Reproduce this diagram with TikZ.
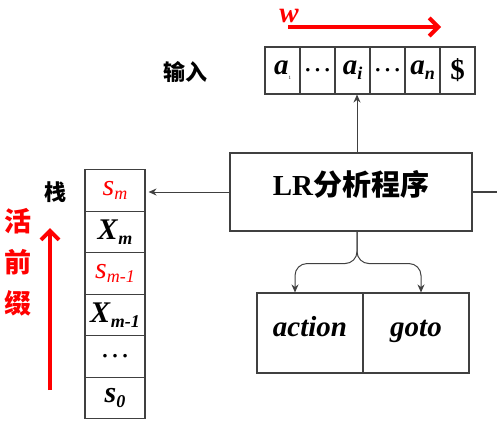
\documentclass[tikz,border=0pt]{standalone}
\usepackage{fontspec}
\setmainfont{Liberation Serif}
\newfontfamily\cjk{Noto Sans CJK SC}
\usetikzlibrary{positioning,arrows.meta}

\newcommand{\sy}[2]{\textbf{\textit{#1}}\raisebox{-0.35ex}{\fontsize{18}{18}\selectfont\textbf{\textit{#2}}}}
\newcommand{\sr}[2]{\textit{#1}\raisebox{-0.35ex}{\fontsize{18}{18}\selectfont\textit{#2}}}

\begin{document}
\begin{tikzpicture}[x=1pt,y=-1pt,>=Stealth,node distance=35pt,
    line/.style={draw=black!75,line width=1.1pt},
    cell/.style={line,minimum width=35pt,minimum height=47pt,inner sep=0pt,font=\fontsize{29}{29}\selectfont},
    stk/.style={line,minimum width=60pt,minimum height=41.5pt,inner sep=0pt,font=\fontsize{30}{30}\selectfont},
    box/.style={line,inner sep=0pt,text height=20pt,text depth=8pt,font=\fontsize{29}{29}\selectfont\bfseries},
    link/.style={->,draw=black!75,line width=1pt,>={Stealth[length=8pt,width=7pt]}},
    big/.style={->,red,line width=4pt,>={Straight Barb[length=9pt,width=18pt,line width=4pt]}}]

    \useasboundingbox (0,0) rectangle (497,423);

    % input tape
    \node[cell] (t1) at (282.5,70.5) {\textbf{\textit{a}}\raisebox{-0.4ex}{\fontsize{5}{5}\selectfont 1}};
    \foreach \curr/\txt [
        evaluate = \curr as \prev using {int(\curr-1)},
    ] in {2/\dots, 3/\sy{a}{i}, 4/\dots, 5/\sy{a}{n}, 6/\textbf{\$}}{
        \node[cell] (t\curr) [right of = t\prev] {\txt};
    }
    \node[font=\cjk\bfseries\fontsize{22}{22}\selectfont] (in) at (185,72) {输入};

    \coordinate (w0) at (288,27);
    \coordinate (w1) at (441,27);
    \draw[big] (w0) -- (w1);
    \node[red,font=\fontsize{29}{29}\selectfont\bfseries\itshape] (w) at (289,16) {w};

    % parser
    \node[box,minimum width=242pt,minimum height=78pt,text depth=14pt] (lr) at (351,192) {LR{\cjk 分析程序}};
    \coordinate (rt) at (497,192);
    \draw[line] (lr.east) -- (rt);
    \draw[link] ([xshift=6pt]lr.north) -- ([xshift=6pt]lr.north |- t3.south);

    % stack
    \node[stk] (s1) at (115,190.5) {\textcolor{red}{\sr{s}{m}}};
    \foreach \curr/\txt [
        evaluate = \curr as \prev using {int(\curr-1)},
    ] in {2/\sy{X}{m}, 3/\textcolor{red}{\sr{s}{m-1}}, 4/\sy{X}{m-1}, 5/\dots, 6/\sy{s}{0}}{
        \node[stk] (s\curr) [node distance=41.5pt, below of = s\prev] {\txt};
    }
    \draw[link,shorten >=3pt] (lr.west) -- (lr.west -| s1.east);

    \node[font=\cjk\bfseries\fontsize{22}{22}\selectfont] (zhan) at (55,192) {栈};
    \node[red,align=center,font=\cjk\bfseries\fontsize{27}{41}\selectfont] (hqz) at (18,262) {活\\前\\缀};
    \coordinate (p0) at (50,390);
    \coordinate (p1) at (50,228);
    \draw[big] (p0) -- (p1);

    % tables
    \node[box,font=\fontsize{29}{29}\selectfont\bfseries\itshape,minimum width=106pt,minimum height=80pt,text depth=14pt] (act) at (310,333) {action};
    \node[box,font=\fontsize{29}{29}\selectfont\bfseries\itshape,minimum width=106pt,minimum height=80pt,text depth=14pt] (gt) [node distance=106pt, right of = act] {goto};

    \coordinate (fk) at ([xshift=6pt,yshift=-32pt]lr.south);
    \draw[link,rounded corners=12pt] ([xshift=6pt]lr.south) -- (fk) -| ([xshift=-15pt]act.north);
    \draw[link,rounded corners=12pt] ([xshift=6pt]lr.south) -- (fk) -| ([xshift=5pt]gt.north);

\end{tikzpicture}
\end{document}
